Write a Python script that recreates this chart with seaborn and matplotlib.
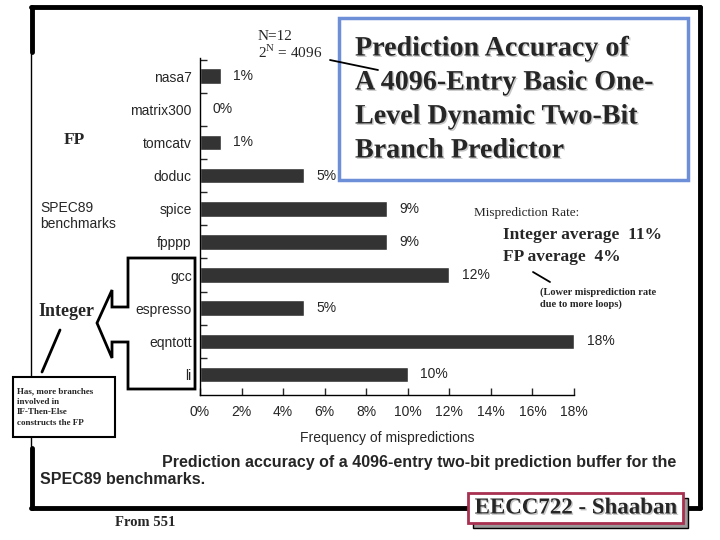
import matplotlib
matplotlib.use("Agg")
import matplotlib.pyplot as plt
import matplotlib.patheffects as pe
from matplotlib.patches import Rectangle, Polygon
from matplotlib.lines import Line2D
import seaborn as sns
import pandas as pd

# === DATA ===
benchmarks = ["nasa7", "matrix300", "tomcatv", "doduc", "spice", "fpppp",
              "gcc", "espresso", "eqntott", "li"]
mispredict = [1, 0, 1, 5, 9, 9, 12, 5, 18, 10]
x_ticks = [0, 2, 4, 6, 8, 10, 12, 14, 16, 18]
title_lines = ["Prediction Accuracy of", "A 4096-Entry Basic One-",
               "Level Dynamic Two-Bit", "Branch Predictor"]
caption_lines = ["Prediction accuracy of a 4096-entry two-bit prediction buffer for the",
                 "SPEC89 benchmarks."]

SANS = "Liberation Sans"
SERIF = "Liberation Serif"

sns.set_style("ticks")
plt.rcParams["font.family"] = [SANS, "DejaVu Sans"]

W, H = 720, 540
fig = plt.figure(figsize=(7.2, 5.4), dpi=100, facecolor="white")


def P(x, y):
    # pixel position -> figure fraction
    return (x / W, 1 - y / H)


# === SLIDE FRAME ===
fig.add_artist(Rectangle(P(31, 508), 668 / W, 501 / H, transform=fig.transFigure,
                         fill=False, edgecolor="black", lw=1, zorder=0))
for xs, ys, lw in [((31, 700), (7, 7), 3.5), ((700, 700), (7, 508), 3.5),
                   ((31, 700), (508, 508), 3.5), ((32, 32), (7, 52), 3.5),
                   ((32, 32), (448, 508), 3.5)]:
    fig.add_artist(Line2D([x / W for x in xs], [1 - y / H for y in ys],
                          transform=fig.transFigure, color="black", lw=lw, zorder=0))

# === BAR CHART ===
ax = fig.add_axes([200 / W, 1 - 395 / H, 374 / W, 337 / H])
df = pd.DataFrame({"Benchmark": benchmarks, "Rate": mispredict})
sns.barplot(data=df, x="Rate", y="Benchmark", orient="h", color="#333333",
            saturation=1, width=0.47, ax=ax)
ax.bar_label(ax.containers[0], labels=[f"{v}%" for v in mispredict],
             padding=9, fontsize=10, family=SANS)
ax.set_xlim(0, 18)
ax.set_ylim(9.62, -0.55)
ax.set_xticks(x_ticks)
ax.set_xticklabels([f"{v}%" for v in x_ticks], fontsize=10)
ax.set_yticks(range(len(benchmarks)))
ax.set_yticklabels(benchmarks, fontsize=10)
ax.set_yticks([i + 0.5 for i in range(-1, len(benchmarks) - 1)], minor=True)
ax.tick_params(axis="x", direction="in", length=5, width=1, pad=7)
ax.tick_params(axis="y", which="major", length=0, pad=6)
ax.tick_params(axis="y", which="minor", direction="in", length=5, width=1)
ax.set_xlabel("Frequency of mispredictions", fontsize=10, labelpad=9)
ax.set_ylabel("")
sns.despine(ax=ax)
for s in ("left", "bottom"):
    ax.spines[s].set_linewidth(1)
    ax.spines[s].set_color("black")
ax.set_facecolor("white")

# === TITLE BOX ===
fig.add_artist(Rectangle(P(339, 180), 349 / W, 162 / H, transform=fig.transFigure,
                         fill=False, edgecolor="#6d8fd8", lw=2.5))
shadow = [pe.withSimplePatchShadow(offset=(1, -1), shadow_rgbFace="#b0b0b0", alpha=0.7)]
for i, line in enumerate(title_lines):
    fig.text(*P(355, 49 + 34 * i), line, family=SERIF, fontsize=20.2,
             fontweight="bold", va="center", ha="left", path_effects=shadow)

fig.text(*P(258, 37), "N=12", family=SERIF, fontsize=11, va="center")
fig.text(*P(258, 52), r"2$^{\mathregular{N}}$ = 4096", family=SERIF, fontsize=11, va="center")
fig.add_artist(Line2D([330 / W, 378 / W], [1 - 60 / H, 1 - 70 / H],
                      transform=fig.transFigure, color="black", lw=1.3))

# === LEFT ANNOTATIONS ===
fig.text(*P(64, 140), "FP", family=SERIF, fontsize=12.5, fontweight="bold", va="center")
fig.text(*P(40, 216), "SPEC89\nbenchmarks", family=SANS, fontsize=10,
         va="center", linespacing=1.2)
fig.text(*P(38, 312), "Integer", family=SERIF, fontsize=13, fontweight="bold", va="center")

bracket = [(128, 258), (195, 258), (195, 389), (128, 389), (128, 342), (112, 342),
           (112, 358), (97, 323), (112, 290), (112, 307), (128, 307)]
fig.add_artist(Polygon([P(x, y) for x, y in bracket], closed=True, fill=False,
                       edgecolor="black", lw=2, transform=fig.transFigure))
fig.add_artist(Line2D([60 / W, 42 / W], [1 - 330 / H, 1 - 372 / H],
                      transform=fig.transFigure, color="black", lw=2))

fig.add_artist(Rectangle(P(13, 437), 102 / W, 60 / H, transform=fig.transFigure,
                         facecolor="white", edgecolor="black", lw=1.5, zorder=3))
fig.text(*P(17, 407), "Has, more branches\ninvolved in\nIF-Then-Else\nconstructs the FP",
         family=SERIF, fontsize=6.5, fontweight="bold", va="center", linespacing=1.45,
         zorder=4)

# === RIGHT ANNOTATIONS ===
fig.text(*P(474, 213), "Misprediction Rate:", family=SERIF, fontsize=9.5, va="center")
fig.text(*P(503, 235), "Integer average  11%", family=SERIF, fontsize=12.5,
         fontweight="bold", va="center")
fig.text(*P(503, 257), "FP average  4%", family=SERIF, fontsize=12.5,
         fontweight="bold", va="center")
fig.add_artist(Line2D([533 / W, 550 / W], [1 - 272 / H, 1 - 282 / H],
                      transform=fig.transFigure, color="black", lw=1.3))
fig.text(*P(540, 298), "(Lower misprediction rate\ndue to more loops)", family=SERIF,
         fontsize=7.5, fontweight="bold", va="center", linespacing=1.3)

# === CAPTION ===
fig.text(*P(162, 462), caption_lines[0], family=SANS, fontsize=11.5,
         fontweight="bold", va="center")
fig.text(*P(40, 480), caption_lines[1], family=SANS, fontsize=11.5,
         fontweight="bold", va="center")

# === FOOTER ===
fig.text(*P(115, 522), "From 551", family=SERIF, fontsize=10.5, fontweight="bold", va="center")
fig.add_artist(Rectangle(P(473, 528), 215 / W, 30 / H, transform=fig.transFigure,
                         facecolor="#9a9a9a", edgecolor="black", lw=1, zorder=5))
fig.add_artist(Rectangle(P(468, 523), 215 / W, 30 / H, transform=fig.transFigure,
                         facecolor="white", edgecolor="#a83050", lw=2, zorder=6))
fig.text(*P(576, 508), "EECC722 - Shaaban", family=SERIF, fontsize=16.5,
         fontweight="bold", ha="center", va="center", zorder=7,
         path_effects=[pe.withSimplePatchShadow(offset=(1, -1), shadow_rgbFace="#b0b0b0",
                                                alpha=0.7)])

fig.savefig("out.png", dpi=100, facecolor="white")
